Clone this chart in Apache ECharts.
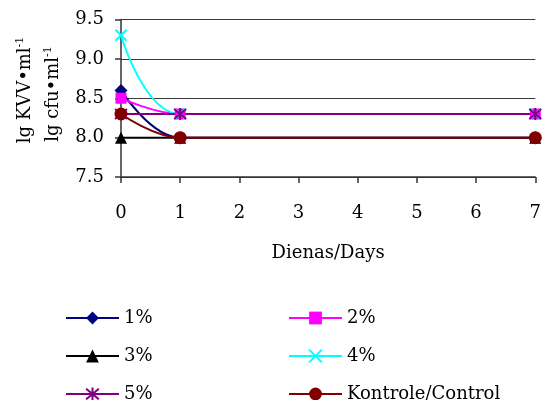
<!DOCTYPE html>
<html>
<head>
<meta charset="utf-8">
<script src="https://cdn.jsdelivr.net/npm/echarts@6/dist/echarts.min.js"></script>
<style>
  html, body { margin: 0; padding: 0; background: #fff; }
  #chart { width: 544px; height: 400px; }
</style>
</head>
<body>
<div id="chart"></div>
<script>
// Measurement days and log counts per concentration
const days = [0, 1, 7];
const s1 = [8.6, 8.0, 8.0];     // 1%
const s2 = [8.5, 8.3, 8.3];     // 2%
const s3 = [8.0, 8.0, 8.0];     // 3%
const s4 = [9.3, 8.3, 8.3];     // 4%
const s5 = [8.3, 8.3, 8.3];     // 5%
const sCtrl = [8.3, 8.0, 8.0];  // Kontrole/Control

const seriesNames = ['1%', '2%', '3%', '4%', '5%', 'Kontrole/Control'];
const seriesValues = [s1, s2, s3, s4, s5, sCtrl];
const xTicks = [0, 1, 2, 3, 4, 5, 6, 7];
const yTicks = [7.5, 8.0, 8.5, 9.0, 9.5];

const FONT = 'DejaVu Serif';
const AXIS_COLOR = '#333';

const styles = [
  { color: '#000080', symbol: 'diamond', size: 13, filled: true },
  { color: '#FF00FF', symbol: 'rect', size: 11, filled: true },
  { color: '#000000', symbol: 'triangle', size: 12, filled: true },
  { color: '#00FFFF', symbol: 'path://M0,0L10,10M10,0L0,10', size: 11, filled: false },
  { color: '#800080', symbol: 'path://M0,0L10,10M10,0L0,10M5,-1L5,11', size: 12, filled: false },
  { color: '#800000', symbol: 'circle', size: 13, filled: true }
];

const series = seriesNames.map((name, i) => {
  const st = styles[i];
  return {
    name: name,
    type: 'line',
    smooth: 0.4,
    data: days.map((d, j) => [d, seriesValues[i][j]]),
    symbol: st.symbol,
    symbolSize: st.size,
    lineStyle: { color: st.color, width: 2 },
    itemStyle: st.filled
      ? { color: st.color }
      : { color: 'rgba(0,0,0,0)', borderColor: st.color, borderWidth: 2 },
    emphasis: { disabled: true },
    animation: false
  };
});

const chart = echarts.init(document.getElementById('chart'), null, { renderer: 'canvas' });

const legendText = { fontFamily: FONT, fontSize: 18, color: '#000', lineHeight: 20 };

chart.setOption({
  backgroundColor: '#fff',
  animation: false,
  grid: { left: 121, right: 3, top: 19.5, bottom: 223, containLabel: false },
  xAxis: {
    type: 'value',
    min: xTicks[0],
    max: xTicks[xTicks.length - 1],
    interval: 1,
    name: 'Dienas/Days',
    nameLocation: 'middle',
    nameGap: 67,
    nameTextStyle: { fontFamily: FONT, fontSize: 18, color: '#000', verticalAlign: 'top' },
    axisLine: { onZero: false, lineStyle: { color: AXIS_COLOR, width: 1.5 } },
    axisTick: { show: true, length: 6, lineStyle: { color: AXIS_COLOR, width: 1.5 } },
    axisLabel: { fontFamily: FONT, fontSize: 18, color: '#000', margin: 27 },
    splitLine: { show: false }
  },
  yAxis: {
    type: 'value',
    min: yTicks[0],
    max: yTicks[yTicks.length - 1],
    interval: 0.5,
    axisLine: { show: true, lineStyle: { color: AXIS_COLOR, width: 1.5 } },
    axisTick: { show: true, length: 6, lineStyle: { color: AXIS_COLOR, width: 1.5 } },
    axisLabel: {
      fontFamily: FONT, fontSize: 18, color: '#000', margin: 17,
      formatter: v => v.toFixed(1)
    },
    splitLine: { show: true, lineStyle: { color: '#3a3a3a', width: 1.2 } }
  },
  legend: [
    {
      data: ['1%', '3%', '5%'],
      orient: 'vertical',
      left: 60, top: 303, height: 120,
      itemWidth: 53, itemHeight: 16, itemGap: 18,
      textStyle: legendText,
      selectedMode: false
    },
    {
      data: ['2%', '4%', 'Kontrole/Control'],
      orient: 'vertical',
      left: 283, top: 303, height: 120,
      itemWidth: 53, itemHeight: 16, itemGap: 18,
      textStyle: legendText,
      selectedMode: false
    }
  ],
  graphic: [
    {
      type: 'text', x: 25, y: 90, rotation: Math.PI / 2,
      style: {
        text: 'lg KVV•ml{s|-1}',
        fontFamily: FONT, fontSize: 18, fill: '#000',
        align: 'center', verticalAlign: 'middle',
        rich: { s: { fontFamily: FONT, fontSize: 11, fill: '#000', padding: [0, 0, 9, 0] } }
      }
    },
    {
      type: 'text', x: 53, y: 94, rotation: Math.PI / 2,
      style: {
        text: 'lg cfu•ml{s|-1}',
        fontFamily: FONT, fontSize: 18, fill: '#000',
        align: 'center', verticalAlign: 'middle',
        rich: { s: { fontFamily: FONT, fontSize: 11, fill: '#000', padding: [0, 0, 9, 0] } }
      }
    }
  ],
  series: series
});
</script>
</body>
</html>
